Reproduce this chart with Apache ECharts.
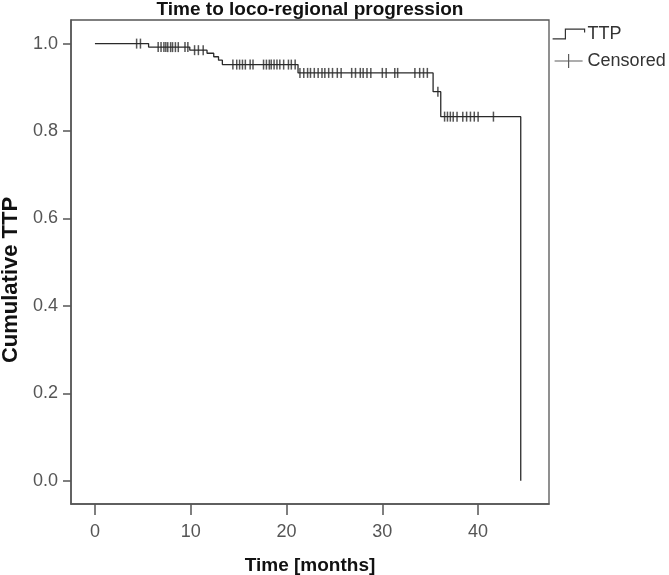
<!DOCTYPE html>
<html>
<head>
<meta charset="utf-8">
<script src="https://cdn.jsdelivr.net/npm/echarts@6/dist/echarts.min.js"></script>
<style>
html,body{margin:0;padding:0;background:#fff;}
#chart{width:669px;height:575px;}
</style>
</head>
<body>
<div id="chart"></div>
<script>
// Kaplan-Meier step curve: event times (months) and cumulative TTP after each event
var eventTimes = [0, 5.6, 9.9, 11.7, 12.4, 12.9, 13.3, 21.2, 35.3, 36.1, 44.45];
var survival   = [1.0, 0.992, 0.985, 0.978, 0.970, 0.962, 0.952, 0.933, 0.890, 0.833, 0.0];

// Censored observation times (months)
var censoredTimes = [4.35, 4.75,
  6.6, 6.9, 7.2, 7.4, 7.6, 7.9, 8.1, 8.4, 8.7, 9.4, 9.7,
  10.4, 10.8, 11.3,
  14.4, 14.8, 15.1, 15.4, 15.7, 16.2, 16.5, 17.6, 17.9, 18.2, 18.4, 18.7, 19.0, 19.3, 19.7, 20.2, 20.5, 20.9,
  21.4, 21.8, 22.2, 22.5, 22.9, 23.3, 23.7, 24.0, 24.4, 24.8, 25.3, 25.7, 26.8, 27.2, 27.7, 28.0, 28.4, 28.8,
  30.0, 30.4, 31.3, 31.6, 33.4, 33.9, 34.3, 34.7,
  35.8,
  36.5, 36.8, 37.1, 37.4, 37.8, 38.4, 38.8, 39.2, 39.6, 40.0, 41.6];

// Tick labels
var xTicks = [0, 10, 20, 30, 40];
var yTicks = [0, 0.2, 0.4, 0.6, 0.8, 1.0];

var titleText = 'Time to loco-regional progression';
var xName = 'Time [months]';
var yName = 'Cumulative TTP';
var seriesNames = ['TTP', 'Censored'];

function levelAt(t) {
  var v = survival[0];
  for (var i = 0; i < eventTimes.length; i++) {
    if (eventTimes[i] <= t) v = survival[i];
  }
  return v;
}

var curveData = eventTimes.map(function (t, i) { return [t, survival[i]]; });
var censData = censoredTimes.map(function (t) { return [t, levelAt(t)]; });

var FONT = '"Liberation Sans", Arial, sans-serif';
var chart = echarts.init(document.getElementById('chart'), null, {renderer: 'canvas'});
chart.setOption({
  animation: false,
  backgroundColor: '#ffffff',
  title: {
    text: titleText,
    left: 310, top: 0, textAlign: 'center', padding: 0,
    textStyle: {fontFamily: FONT, fontSize: 19, fontWeight: 'bold', color: '#111'}
  },
  legend: {
    orient: 'vertical', left: 552, top: 25, itemWidth: 32, itemHeight: 14, itemGap: 9, padding: 0,
    textStyle: {fontFamily: FONT, fontSize: 18, color: '#333', padding: [0,0,0,-2]},
    data: [
      {name: seriesNames[0], icon: 'path://M0,9 L12,9 L12,0 L30,0 L30,3',
       itemStyle: {color: 'rgba(0,0,0,0)', borderColor: '#333', borderWidth: 1.2}},
      {name: seriesNames[1], icon: 'path://M0,8 L32,8 M16,0 L16,16',
       itemStyle: {color: 'rgba(0,0,0,0)', borderColor: '#333', borderWidth: 1.2}}
    ]
  },
  grid: {left: 71, right: 120, top: 20, bottom: 71, show: true, borderColor: '#555', borderWidth: 1.3,
         containLabel: false, outerBoundsMode: 'none'},
  xAxis: {
    type: 'value', min: -2.5, max: 47.4,
    name: xName, nameLocation: 'middle', nameGap: 52,
    nameTextStyle: {fontFamily: FONT, fontSize: 19, fontWeight: 'bold', color: '#111'},
    axisLine: {onZero: false, lineStyle: {color: '#555', width: 1.5}},
    axisTick: {customValues: xTicks, length: 11, lineStyle: {color: '#555', width: 1.5}},
    axisLabel: {customValues: xTicks, margin: 19, fontFamily: FONT, fontSize: 18, color: '#555'},
    splitLine: {show: false}
  },
  yAxis: {
    type: 'value', min: -0.053, max: 1.054,
    name: yName, nameLocation: 'middle', nameGap: 42,
    nameTextStyle: {fontFamily: FONT, fontSize: 22, fontWeight: 'bold', color: '#111', padding: [0, 36, 0, 0]},
    axisLine: {onZero: false, lineStyle: {color: '#555', width: 1.5}},
    axisTick: {customValues: yTicks, length: 8, lineStyle: {color: '#555', width: 1.5}},
    axisLabel: {customValues: yTicks, margin: 13, fontFamily: FONT, fontSize: 18, color: '#555',
      formatter: function (v) { return v.toFixed(1); }},
    splitLine: {show: false}
  },
  series: [
    {
      name: seriesNames[0], type: 'line', step: 'end', data: curveData,
      symbol: 'none', showSymbol: false,
      lineStyle: {color: '#2a2a2a', width: 1.3},
      itemStyle: {color: '#2a2a2a'}
    },
    {
      name: seriesNames[1], type: 'scatter', data: censData,
      symbol: 'rect', symbolSize: [1.5, 10],
      itemStyle: {color: '#2a2a2a'}, z: 3
    }
  ]
});
</script>
</body>
</html>
